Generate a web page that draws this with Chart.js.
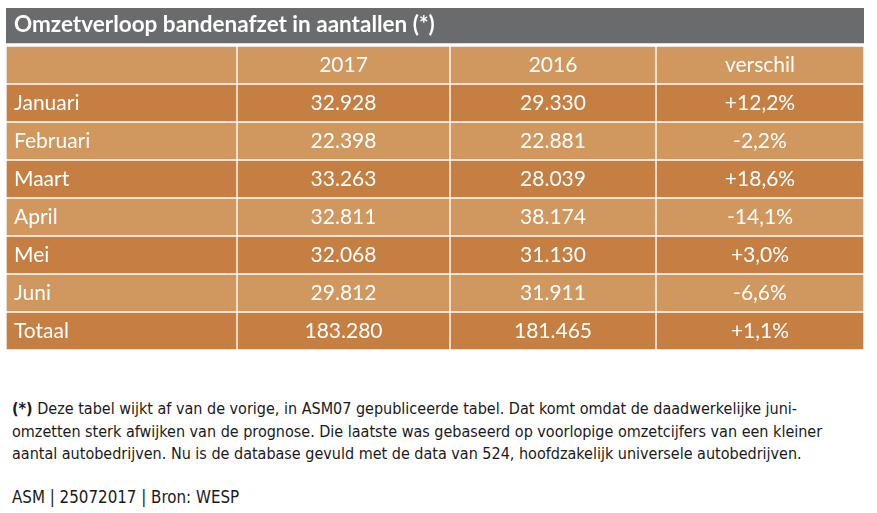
<!DOCTYPE html>
<html lang="nl">
<head>
<meta charset="utf-8">
<title>Omzetverloop bandenafzet</title>
<script src="https://cdn.jsdelivr.net/npm/chart.js@4.4.1/dist/chart.umd.min.js"></script>
<style>
  html, body { margin: 0; padding: 0; background: #fff; }
  #wrap { position: absolute; left: 0; top: 0; width: 877px; height: 355px; }
  .note {
    position: absolute; left: 12px;
    font-family: "Liberation Sans Narrow", "DejaVu Sans Condensed", sans-serif;
    font-size: 16px; line-height: 22.5px; color: #1a1a1a; white-space: nowrap;
  }
  #note { top: 398px; }
  #source { top: 486px; font-size: 16.8px; }
</style>
</head>
<body>
<div id="wrap"><canvas id="tableChart"></canvas></div>
<div class="note" id="note"><b>(*)</b> Deze tabel wijkt af van de vorige, in ASM07 gepubliceerde tabel. Dat komt omdat de daadwerkelijke juni-<br>omzetten sterk afwijken van de prognose. Die laatste was gebaseerd op voorlopige omzetcijfers van een kleiner<br>aantal autobedrijven. Nu is de database gevuld met de data van 524, hoofdzakelijk universele autobedrijven.</div>
<div class="note" id="source">ASM | 25072017 | Bron: WESP</div>

<script>
const tableTitle = 'Omzetverloop bandenafzet in aantallen (*)';
const columnHeads = ['', '2017', '2016', 'verschil'];
const months = ['Januari', 'Februari', 'Maart', 'April', 'Mei', 'Juni', 'Totaal'];
const sales2017 = [32928, 22398, 33263, 32811, 32068, 29812, 183280];
const sales2016 = [29330, 22881, 28039, 38174, 31130, 31911, 181465];
const diffPct = [12.2, -2.2, 18.6, -14.1, 3.0, -6.6, 1.1];

// table layout: column edges on the x scale, rows on the category y scale
const colEdges = [0, 231, 444, 650, 858];
const rowKeys = ['title', 'header', ...months];

const gray = '#6a6b6d';
const darkOrange = '#c57f43';
const lightOrange = '#d0975f';

function fmtNum(v) {
  return String(v).replace(/\B(?=(\d{3})+(?!\d))/g, '.');
}
function fmtPct(v) {
  return (v > 0 ? '+' : '') + v.toFixed(1).replace('.', ',') + '%';
}

function rowColor(i) {
  if (i === 0) return gray;
  if (i === 1) return lightOrange;
  return (i % 2 === 0) ? darkOrange : lightOrange;
}

const datasets = columnHeads.map((h, c) => ({
  label: h || 'maand',
  data: rowKeys.map((r, i) => {
    if (i === 0) return c === 0 ? [colEdges[0], colEdges[4]] : null;
    return [colEdges[c], colEdges[c + 1]];
  }),
  backgroundColor: ctx => rowColor(ctx.dataIndex),
  borderColor: '#fff',
  borderWidth: ctx => ctx.dataIndex === 0 ? { top: 0, left: 0, right: 0, bottom: 3 } : 1,
  borderSkipped: false,
  grouped: false,
  barPercentage: 1,
  categoryPercentage: 1
}));

const cellText = {
  id: 'cellText',
  afterDatasetsDraw(chart) {
    const { ctx, scales: { x, y } } = chart;
    ctx.save();
    ctx.fillStyle = '#fff';
    ctx.textBaseline = 'middle';

    ctx.font = 'bold 22.5px Lato';
    ctx.textAlign = 'left';
    ctx.fillText(tableTitle, x.getPixelForValue(colEdges[0]) + 8, y.getPixelForValue('title') - 2);

    ctx.font = '21px Lato';
    ctx.textAlign = 'center';
    const mid = c => x.getPixelForValue((colEdges[c] + colEdges[c + 1]) / 2);
    const hy = y.getPixelForValue('header');
    columnHeads.forEach((h, c) => { if (h) ctx.fillText(h, mid(c), hy); });

    months.forEach((m, i) => {
      const ry = y.getPixelForValue(m);
      ctx.textAlign = 'left';
      ctx.fillText(m, x.getPixelForValue(colEdges[0]) + 8, ry);
      ctx.textAlign = 'center';
      ctx.fillText(fmtNum(sales2017[i]), mid(1), ry);
      ctx.fillText(fmtNum(sales2016[i]), mid(2), ry);
      ctx.fillText(fmtPct(diffPct[i]), mid(3), ry);
    });
    ctx.restore();
  }
};

new Chart(document.getElementById('tableChart'), {
  type: 'bar',
  data: { labels: rowKeys, datasets },
  options: {
    indexAxis: 'y',
    responsive: true,
    maintainAspectRatio: false,
    animation: false,
    layout: { padding: { left: 6, right: 13, top: 8, bottom: 5 } },
    plugins: { legend: { display: false }, tooltip: { enabled: false } },
    scales: {
      x: { type: 'linear', min: colEdges[0], max: colEdges[4], display: false },
      y: { type: 'category', display: false }
    }
  },
  plugins: [cellText]
});
</script>
</body>
</html>
